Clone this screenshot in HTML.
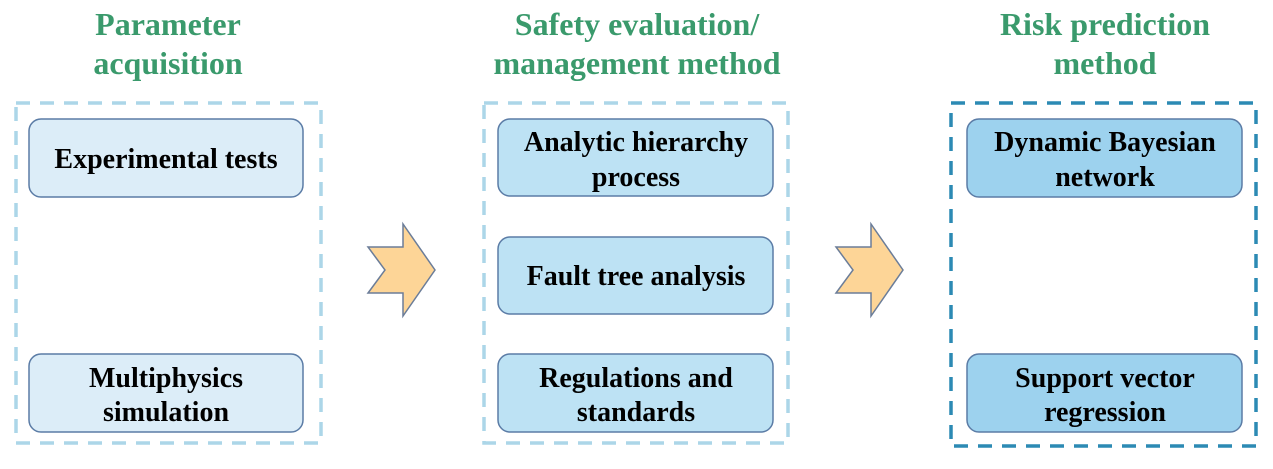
<!DOCTYPE html>
<html><head><meta charset="utf-8"><style>
html,body{margin:0;padding:0;background:#fff;width:1273px;height:469px;overflow:hidden}
text{font-family:"Liberation Serif",serif;font-weight:bold}
</style></head><body>
<svg width="1273" height="469" viewBox="0 0 1273 469" xmlns="http://www.w3.org/2000/svg">
<g fill="#3a9a6c" font-size="32" text-anchor="middle">
<text x="168" y="35">Parameter</text><text x="168" y="74">acquisition</text>
<text x="637" y="35">Safety evaluation/</text><text x="637" y="74">management method</text>
<text x="1105" y="35">Risk prediction</text><text x="1105" y="74">method</text>
</g>
<g fill="none" stroke-width="3.5" stroke-dasharray="14,10">
<rect x="16" y="103" width="305" height="340" stroke="#acd6e8"/>
<rect x="484" y="103" width="304" height="340" stroke="#acd6e8"/>
<rect x="951" y="103" width="305" height="343" stroke="#2c8ab4"/>
</g>
<g stroke="#5b7ca6" stroke-width="1.5">
<rect x="29" y="119" width="274" height="78" rx="12" fill="#dcedf8"/>
<rect x="29" y="354" width="274" height="78" rx="12" fill="#dcedf8"/>
<rect x="498" y="119" width="275" height="77" rx="12" fill="#bde2f4"/>
<rect x="498" y="237" width="275" height="77" rx="12" fill="#bde2f4"/>
<rect x="498" y="354" width="275" height="78" rx="12" fill="#bde2f4"/>
<rect x="967" y="119" width="275" height="78" rx="12" fill="#9dd2ee"/>
<rect x="967" y="354" width="275" height="78" rx="12" fill="#9dd2ee"/>
</g>
<g fill="#fdd597" stroke="#6b7d99" stroke-width="1.5">
<polygon points="368,247 403,247 403,224 435,270 403,316 403,293 368,293 385,270"/>
<polygon points="836,247 871,247 871,224 903,270 871,316 871,293 836,293 853,270"/>
</g>
<g fill="#000" font-size="28" text-anchor="middle">
<text x="166" y="168">Experimental tests</text>
<text x="166" y="387">Multiphysics</text><text x="166" y="421">simulation</text>
<text x="636" y="151">Analytic hierarchy</text><text x="636" y="186">process</text>
<text x="636" y="285">Fault tree analysis</text>
<text x="636" y="387">Regulations and</text><text x="636" y="421">standards</text>
<text x="1105" y="151">Dynamic Bayesian</text><text x="1105" y="186">network</text>
<text x="1105" y="387">Support vector</text><text x="1105" y="421">regression</text>
</g>
</svg>
</body></html>
